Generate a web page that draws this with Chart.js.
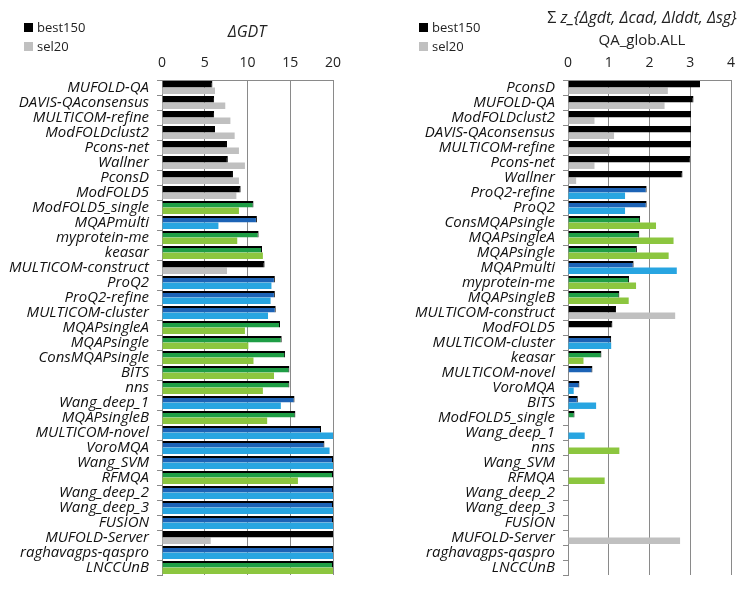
<!DOCTYPE html>
<html lang="en">
<head>
  <meta charset="UTF-8">
  <title>QA ranking</title>
  <script src="https://cdn.jsdelivr.net/npm/chart.js"></script>
</head>
<style>
  body {
    margin: 0;
    padding: 0;
    background: #fff;
    font-family: "Open Sans", sans-serif;
  }
  .wrap {
    position: relative;
    width: 750px;
    height: 592px;
    overflow: hidden;
  }
  .panel {
    position: absolute;
    top: 0;
    width: 375px;
    height: 592px;
  }
  .legend {
    position: absolute;
    font-size: 13px;
    color: #222;
    line-height: 19px;
  }
  .legend span {
    display: inline-block;
    width: 9px;
    height: 9px;
    margin-right: 4px;
  }
  .title {
    position: absolute;
    font-size: 16px;
    color: #222;
    text-align: center;
    white-space: nowrap;
  }
</style>
<body>
<div class="wrap">
  <div class="panel" style="left:0"><canvas id="gdtChart"></canvas></div>
  <div class="panel" style="left:375px"><canvas id="zChart"></canvas></div>

  <div class="legend" style="left:24px; top:18px">
    <div><span style="background:#000"></span>best150</div>
    <div><span style="background:#c0c0c0"></span>sel20</div>
  </div>
  <div class="legend" style="left:419px; top:18px">
    <div><span style="background:#000"></span>best150</div>
    <div><span style="background:#c0c0c0"></span>sel20</div>
  </div>

  <div class="title" style="left:197px; width:100px; top:20px"><i>ΔGDT</i></div>
  <div class="title" style="left:532px; width:220px; top:6px">Σ <i>z_{Δgdt, Δcad, Δlddt, Δsg}</i></div>
  <div class="title" style="left:532px; width:220px; top:29px; font-size:15px">QA_glob.ALL</div>
</div>

<script>
  // left panel: delta GDT
  const gdtLabels = ['MUFOLD-QA', 'DAVIS-QAconsensus', 'MULTICOM-refine', 'ModFOLDclust2', 'Pcons-net',
    'Wallner', 'PconsD', 'ModFOLD5', 'ModFOLD5_single', 'MQAPmulti', 'myprotein-me', 'keasar',
    'MULTICOM-construct', 'ProQ2', 'ProQ2-refine', 'MULTICOM-cluster', 'MQAPsingleA', 'MQAPsingle',
    'ConsMQAPsingle', 'BITS', 'nns', 'Wang_deep_1', 'MQAPsingleB', 'MULTICOM-novel', 'VoroMQA',
    'Wang_SVM', 'RFMQA', 'Wang_deep_2', 'Wang_deep_3', 'FUSION', 'MUFOLD-Server', 'raghavagps-qaspro', 'LNCCUnB'];
  const gdtBest = [5.9, 6.1, 6.1, 6.2, 7.6, 7.7, 8.3, 9.2, 10.7, 11.1, 11.3, 11.7, 12.0, 13.2, 13.2, 13.3,
    13.8, 14.0, 14.4, 14.9, 14.9, 15.5, 15.6, 18.6, 19.0, 20, 20, 20, 20, 20, 20, 20, 20];
  const gdtSel = [6.2, 7.4, 8.0, 8.5, 9.0, 9.7, 9.0, 8.7, 9.0, 6.6, 8.8, 11.8, 7.6, 12.8, 12.7, 12.4,
    9.7, 10.1, 10.7, 13.1, 11.8, 13.9, 12.3, 20, 19.6, 20, 15.9, 20, 20, 20, 5.7, 20, 20];
  const gdtType = ['c', 'c', 'c', 'c', 'c', 'c', 'c', 'c', 's', 'q', 's', 's', 'c', 'q', 'q', 'q',
    's', 's', 's', 's', 's', 'q', 's', 'q', 'q', 'q', 's', 'q', 'q', 'q', 'c', 'q', 's'];

  // right panel: sum of z-scores, QA_glob.ALL
  const zLabels = ['PconsD', 'MUFOLD-QA', 'ModFOLDclust2', 'DAVIS-QAconsensus', 'MULTICOM-refine', 'Pcons-net',
    'Wallner', 'ProQ2-refine', 'ProQ2', 'ConsMQAPsingle', 'MQAPsingleA', 'MQAPsingle', 'MQAPmulti',
    'myprotein-me', 'MQAPsingleB', 'MULTICOM-construct', 'ModFOLD5', 'MULTICOM-cluster', 'keasar',
    'MULTICOM-novel', 'VoroMQA', 'BITS', 'ModFOLD5_single', 'Wang_deep_1', 'nns', 'Wang_SVM', 'RFMQA',
    'Wang_deep_2', 'Wang_deep_3', 'FUSION', 'MUFOLD-Server', 'raghavagps-qaspro', 'LNCCUnB'];
  const zBest = [3.24, 3.08, 3.02, 3.02, 3.02, 3.0, 2.81, 1.93, 1.93, 1.77, 1.75, 1.69, 1.61, 1.5, 1.26,
    1.18, 1.09, 1.06, 0.82, 0.6, 0.28, 0.24, 0.16, 0, 0, 0, 0, 0, 0, 0, 0, 0, 0];
  const zSel = [2.45, 2.37, 0.65, 1.13, 1.02, 0.65, 0.2, 1.4, 1.4, 2.16, 2.59, 2.47, 2.67, 1.67, 1.49,
    2.63, 0, 1.06, 0.38, 0, 0.14, 0.69, 0, 0.41, 1.26, 0, 0.9, 0, 0, 0, 2.75, 0, 0];
  const zType = ['c', 'c', 'c', 'c', 'c', 'c', 'c', 'q', 'q', 's', 's', 's', 'q', 's', 's', 'c', 'c', 'q',
    's', 'q', 'q', 'q', 's', 'q', 's', 'q', 's', 'q', 'q', 'q', 'c', 'q', 's'];

  const darkColor = { c: '#000000', s: '#1f9e46', q: '#1c63b6' };
  const lightColor = { c: '#c0c0c0', s: '#8cc63f', q: '#28a5e1' };

  function makeChart(id, labels, best, sel, types, max, step, yWidth, padRight, padBottom) {
    const ctx = document.getElementById(id).getContext('2d');
    return new Chart(ctx, {
      type: 'bar',
      data: {
        labels: labels,
        datasets: [{
          label: 'best150',
          data: best,
          backgroundColor: types.map(t => darkColor[t]),
          borderColor: '#000',
          borderWidth: { top: 2, right: 1, bottom: 0, left: 0 },
          borderSkipped: false
        }, {
          label: 'sel20',
          data: sel,
          backgroundColor: types.map(t => lightColor[t]),
          borderWidth: 0
        }]
      },
      options: {
        indexAxis: 'y',
        responsive: false,
        animation: false,
        layout: { padding: { left: 0, right: padRight, top: 0, bottom: padBottom } },
        datasets: { bar: { categoryPercentage: 0.86, barPercentage: 1.0 } },
        plugins: {
          legend: { display: false },
          tooltip: { enabled: false }
        },
        scales: {
          x: {
            position: 'top',
            min: 0,
            max: max,
            ticks: { stepSize: step, padding: 9, color: '#222', font: { family: 'Open Sans', size: 14 } },
            grid: { color: '#8a8a8a', lineWidth: 1, drawTicks: false },
            border: { color: '#8a8a8a' },
            afterFit: s => { s.height = 80; }
          },
          y: {
            ticks: { autoSkip: false, padding: 8, color: '#111', font: { family: 'Open Sans', size: 15, style: 'italic' } },
            grid: { drawOnChartArea: false, offset: true, tickLength: 5, color: '#8a8a8a' },
            border: { color: '#8a8a8a' },
            afterFit: s => { s.width = yWidth; }
          }
        }
      }
    });
  }

  function sizeCanvas(id) {
    const c = document.getElementById(id);
    c.width = 375;
    c.height = 592;
  }
  sizeCanvas('gdtChart');
  sizeCanvas('zChart');

  makeChart('gdtChart', gdtLabels, gdtBest, gdtSel, gdtType, 20, 5, 162, 42, 9);
  makeChart('zChart', zLabels, zBest, zSel, zType, 4, 1, 193, 19, 10);
</script>
</body>
</html>
